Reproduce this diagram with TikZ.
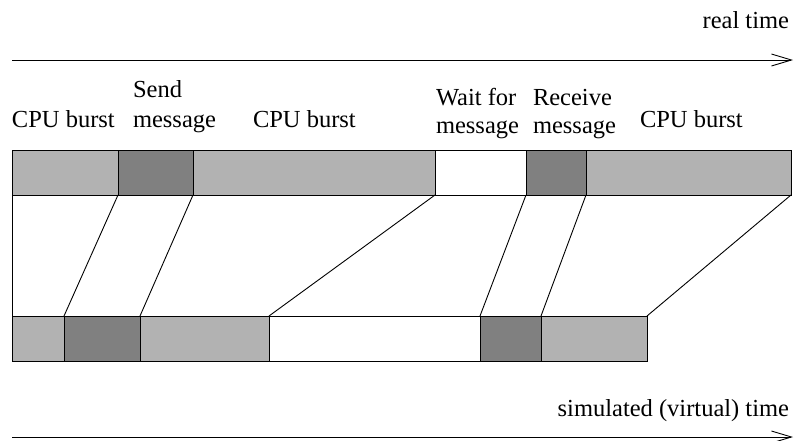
\documentclass[tikz,border=0pt]{standalone}
\usepackage{fontspec}
\setmainfont{Liberation Serif}
\usetikzlibrary{arrows.meta}
\definecolor{lightseg}{gray}{0.70}
\definecolor{darkseg}{gray}{0.50}
\begin{document}
\begin{tikzpicture}[x=1pt,y=-1pt,
  seg/.style={draw=black, line width=0.9pt, inner sep=0pt, outer sep=0pt, anchor=north west, minimum height=45pt},
  light/.style={seg, fill=lightseg},
  dark/.style={seg, fill=darkseg},
  blank/.style={seg, fill=white},
  lbl/.style={inner sep=0pt, outer sep=0pt, anchor=base west, font=\fontsize{24.5}{30}\selectfont},
  lblr/.style={lbl, anchor=base east},
  link/.style={line width=0.9pt},
  timeaxis/.style={line width=0.9pt, -{Straight Barb[length=20pt,width=12pt,line width=0.9pt]}}
]
\useasboundingbox (0,0) rectangle (796,440);

% real time axis
\coordinate (rt0) at (12,60);
\coordinate (rt1) at (793,60);
\draw[timeaxis] (rt0) -- (rt1);
\node[lblr] (rtl) at (789,28) {real time};

% labels
\node[lbl] (l1) at (12,127) {CPU burst};
\node[lbl] (l2a) at (133,97) {Send};
\node[lbl] (l2b) at (133,127) {message};
\node[lbl] (l3) at (253,127) {CPU burst};
\node[lbl] (l4a) at (436,105) {Wait for};
\node[lbl] (l4b) at (436,133) {message};
\node[lbl] (l5a) at (533,105) {Receive};
\node[lbl] (l5b) at (533,133) {message};
\node[lbl] (l6) at (640,127) {CPU burst};

% top bar (real time)
\node[light, minimum width=106pt] (t1) at (12,150) {};
\node[dark,  minimum width=75pt]  (t2) at (118,150) {};
\node[light, minimum width=242pt] (t3) at (193,150) {};
\node[blank, minimum width=91pt]  (t4) at (435,150) {};
\node[dark,  minimum width=60pt]  (t5) at (526,150) {};
\node[light, minimum width=205pt] (t6) at (586,150) {};

% bottom bar (simulated time)
\node[light, minimum width=52pt]  (b1) at (12,316) {};
\node[dark,  minimum width=76pt]  (b2) at (64,316) {};
\node[light, minimum width=129pt] (b3) at (140,316) {};
\node[blank, minimum width=211pt] (b4) at (269,316) {};
\node[dark,  minimum width=61pt]  (b5) at (480,316) {};
\node[light, minimum width=106pt] (b6) at (541,316) {};

% connectors
\draw[link] (t1.south west) -- (b1.north west);
\draw[link] (t1.south east) -- (b1.north east);
\draw[link] (t2.south east) -- (b2.north east);
\draw[link] (t3.south east) -- (b3.north east);
\draw[link] (t4.south east) -- (b4.north east);
\draw[link] (t5.south east) -- (b5.north east);
\draw[link] (t6.south east) -- (b6.north east);

% simulated time axis
\node[lblr] (stl) at (789,416) {simulated (virtual) time};
\coordinate (st0) at (12,437);
\coordinate (st1) at (793,437);
\draw[timeaxis] (st0) -- (st1);
\end{tikzpicture}
\end{document}
